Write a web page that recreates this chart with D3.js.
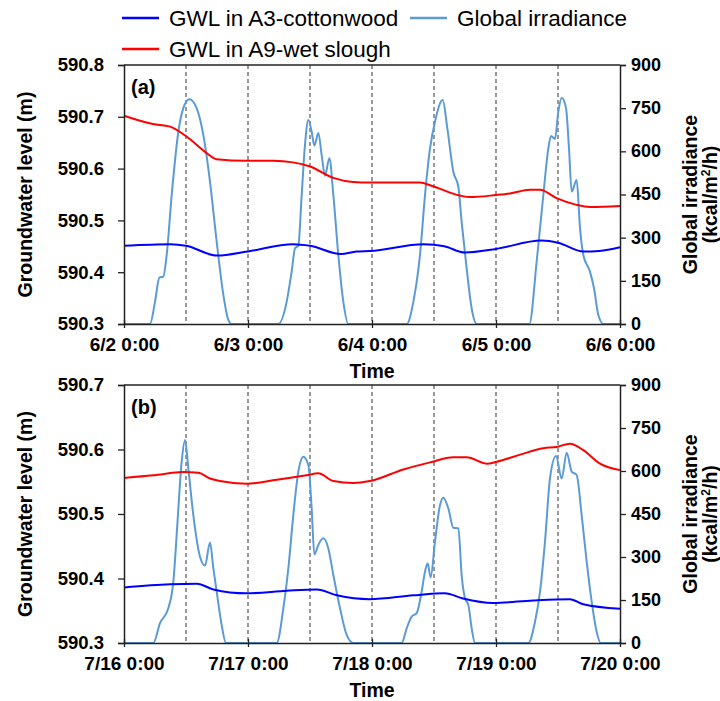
<!DOCTYPE html>
<html>
<head>
<meta charset="utf-8">
<script src="https://cdn.jsdelivr.net/npm/d3@7"></script>
<style>
  html, body { margin: 0; padding: 0; background: #fff; }
  svg { display: block; font-family: "Liberation Sans", Arial, sans-serif; }
</style>
</head>
<body>
<svg id="chart" width="720" height="701"></svg>
<script>
// ---- Data (hour since start of window, value) ----
// Panel (a): 2 June 0:00 – 6 June 0:00
const gwlA3_a = [[0,590.451],[9,590.454],[12,590.451],[18,590.432],[24,590.440],[32.7,590.454],[36,590.451],[42,590.435],[45,590.440],[47.6,590.441],[58,590.454],[62,590.450],[66,590.438],[72,590.445],[80.8,590.461],[84,590.457],[88.9,590.440],[92,590.441],[96,590.448]];
const gwlA9_a = [[0,590.702],[5.6,590.686],[8.9,590.681],[12.1,590.662],[16,590.630],[17.9,590.618],[23.7,590.615],[28.9,590.615],[32.7,590.612],[36,590.604],[40.5,590.582],[44.4,590.574],[47.6,590.573],[57.3,590.573],[59.5,590.567],[65,590.548],[67,590.545],[72,590.549],[74.7,590.552],[78.6,590.559],[80.5,590.559],[83.7,590.543],[87.6,590.530],[90.2,590.526],[96,590.528]];
const irr_a = [[0,0],[5.03,0],[6.0,77],[6.84,161],[7.61,165],[8.26,240],[9.23,448],[10.52,668],[11.48,750],[12.65,781],[14.06,750],[15.35,657],[16.65,494],[17.94,286],[19.23,101],[20.19,14],[20.84,0],
  [29.87,0],[31.48,77],[32.45,182],[33.1,263],[33.74,272],[34.39,448],[35.03,622],[35.68,709],[36.32,668],[36.84,620],[37.61,664],[38.26,587],[38.9,515],[39.74,576],[40.52,448],[41.48,240],[42.45,77],[43.42,0],
  [54.71,0],[56.0,77],[57.29,240],[58.26,448],[59.23,610],[60.19,703],[61.68,778],[62.58,680],[63.74,529],[64.71,477],[65.35,355],[66.32,193],[67.29,54],[68.26,0],
  [78.45,0],[79.87,217],[81.16,448],[82.13,610],[82.65,653],[83.42,643],[84.06,738],[84.71,786],[85.55,750],[86.13,610],[86.65,460],[87.61,500],[88.26,333],[88.9,240],[90.19,182],[90.97,124],[91.81,31],[92.77,0],[96,0]];

// Panel (b): 16 July 0:00 – 20 July 0:00
const gwlA3_b = [[0,590.386],[8.9,590.391],[14.1,590.392],[17.3,590.383],[23.7,590.377],[31.5,590.381],[37.3,590.383],[41.2,590.374],[47.6,590.368],[56,590.374],[62.1,590.377],[65.6,590.369],[71.4,590.362],[79.2,590.366],[86.3,590.368],[88.9,590.360],[96,590.353]];
const gwlA9_b = [[0,590.556],[5.68,590.560],[11.48,590.565],[14.39,590.564],[16.65,590.555],[18.58,590.551],[23.74,590.547],[29.55,590.553],[35.35,590.560],[37.61,590.563],[40.52,590.551],[44.39,590.548],[47.6,590.551],[54.06,590.569],[59.23,590.580],[63.74,590.588],[66.32,590.588],[70.2,590.578],[72.13,590.581],[76.65,590.592],[81.16,590.602],[83.74,590.604],[86.32,590.609],[88.9,590.599],[92.13,590.578],[96,590.568]];
const irr_b = [[0,0],[5.68,0],[6.97,69],[8.58,121],[9.55,214],[10.32,412],[11.16,632],[11.81,708],[12.45,609],[13.42,446],[14.71,301],[15.68,270],[16.65,351],[17.29,261],[17.94,179],[18.9,63],[19.74,0],
  [29.55,0],[30.84,121],[31.81,261],[32.77,446],[33.74,598],[34.71,650],[35.68,621],[36.32,470],[36.84,309],[37.61,342],[38.58,365],[39.55,330],[40.52,237],[41.81,121],[43.1,28],[44.39,0],
  [53.74,0],[54.71,51],[55.68,92],[56.65,104],[57.61,179],[58.26,249],[58.77,278],[59.35,229],[60.19,353],[61.16,481],[61.81,507],[62.77,470],[63.74,402],[64.71,400],[65.35,237],[66.0,156],[66.65,133],[67.29,51],[67.94,0],
  [78.26,0],[79.55,74],[80.52,179],[81.48,353],[82.45,574],[83.61,652],[84.71,574],[85.68,664],[86.65,598],[87.61,586],[88.58,446],[89.55,284],[90.52,144],[91.48,39],[92.26,0],[96,0]];

// Axis labels
const dateTicks_a = ["6/2 0:00","6/3 0:00","6/4 0:00","6/5 0:00","6/6 0:00"];
const dateTicks_b = ["7/16 0:00","7/17 0:00","7/18 0:00","7/19 0:00","7/20 0:00"];
const gwlTicks_a = [590.3,590.4,590.5,590.6,590.7,590.8];
const gwlTicks_b = [590.3,590.4,590.5,590.6,590.7];
const irrTicks = [0,150,300,450,600,750,900];
const seriesNames = ["GWL in A3-cottonwood","Global irradiance","GWL in A9-wet slough"];

const COL_A3 = "#0000ff", COL_A9 = "#ff0000", COL_IRR = "#5b9bd5", AXIS = "#222";

const svg = d3.select("#chart");
const left = 124, right = 620;

// ---- Legend ----
const legend = svg.append("g");
const legendItems = [
  {name: seriesNames[0], color: COL_A3, x: 122, y: 18},
  {name: seriesNames[1], color: COL_IRR, x: 410, y: 18},
  {name: seriesNames[2], color: COL_A9, x: 122, y: 49}
];
legendItems.forEach(d => {
  legend.append("line").attr("x1", d.x).attr("x2", d.x + 37).attr("y1", d.y).attr("y2", d.y)
    .attr("stroke", d.color).attr("stroke-width", 2.5);
  legend.append("text").attr("x", d.x + 47).attr("y", d.y + 8).attr("font-size", 22.5)
    .attr("fill", "#000").text(d.name);
});

function styleAxis(a, size) {
  a.selectAll(".domain").attr("stroke", AXIS).attr("stroke-width", 1.5);
  a.selectAll(".tick line").attr("stroke", AXIS).attr("stroke-width", 1.3);
  a.selectAll("text").attr("font-size", size).attr("font-weight", "bold").attr("fill", "#000")
    .attr("font-family", "Liberation Sans, Arial, sans-serif");
}

function panel(cfg) {
  const {top, bottom, gwlDomain, gwlTicks, dateTicks, a3, a9, irr, tag} = cfg;
  const g = svg.append("g");
  const x = d3.scaleLinear().domain([0, 96]).range([left, right]);
  const y = d3.scaleLinear().domain(gwlDomain).range([bottom, top]);
  const y2 = d3.scaleLinear().domain([0, 900]).range([bottom, top]);

  // dashed guides every 12 h
  const guides = d3.range(12, 96, 12);
  g.selectAll(".guide").data(guides).join("line")
    .attr("x1", d => x(d)).attr("x2", d => x(d))
    .attr("y1", top).attr("y2", bottom)
    .attr("stroke", "#333").attr("stroke-width", 1).attr("stroke-dasharray", "4,3");

  // series
  const lineG = d3.line().x(d => x(d[0])).y(d => y(d[1])).curve(d3.curveMonotoneX);
  const lineI = d3.line().x(d => x(d[0])).y(d => y2(d[1])).curve(d3.curveMonotoneX);
  g.append("path").datum(irr).attr("d", lineI).attr("fill", "none")
    .attr("stroke", COL_IRR).attr("stroke-width", 2);
  g.append("path").datum(a9).attr("d", lineG).attr("fill", "none")
    .attr("stroke", COL_A9).attr("stroke-width", 2);
  g.append("path").datum(a3).attr("d", lineG).attr("fill", "none")
    .attr("stroke", COL_A3).attr("stroke-width", 2);

  // left axis
  const ax = d3.axisLeft(y).tickValues(gwlTicks).tickFormat(d3.format(".1f")).tickSize(6).tickSizeOuter(6).tickPadding(14);
  const gl = g.append("g").attr("transform", `translate(${left},0)`).call(ax);
  styleAxis(gl, 18.5);
  // right axis
  const ax2 = d3.axisRight(y2).tickValues(irrTicks).tickSize(6).tickSizeOuter(6).tickPadding(5);
  const gr = g.append("g").attr("transform", `translate(${right},0)`).call(ax2);
  styleAxis(gr, 18);
  gr.selectAll("text").attr("dy", "0.3em");
  // bottom axis (ticks crossing the baseline)
  const ax3 = d3.axisBottom(x).tickValues([0,24,48,72,96]).tickFormat((d,i) => dateTicks[i]).tickSize(4).tickSizeOuter(0).tickPadding(6);
  const gb = g.append("g").attr("transform", `translate(0,${bottom})`).call(ax3);
  gb.selectAll(".tick line").attr("y1", -4);
  styleAxis(gb, 19);
  gb.selectAll("text").attr("dy", "0.88em");

  // top frame line
  g.append("line").attr("x1", left).attr("x2", right).attr("y1", top).attr("y2", top)
    .attr("stroke", AXIS).attr("stroke-width", 1.5);

  // panel tag
  g.append("text").attr("x", left + 7).attr("y", top + 29).attr("font-size", 20)
    .attr("font-weight", "bold").text(tag);

  // axis titles
  const mid = (top + bottom) / 2;
  g.append("text").attr("transform", `translate(32,${mid}) rotate(-90)`)
    .attr("text-anchor", "middle").attr("font-size", 19.5).attr("font-weight", "bold")
    .text("Groundwater level (m)");
  const rt = g.append("text").attr("transform", `translate(697,${mid}) rotate(-90)`)
    .attr("text-anchor", "middle").attr("font-size", 19.5).attr("font-weight", "bold");
  rt.append("tspan").attr("x", 0).attr("y", 0).text("Global irradiance");
  const t2 = rt.append("tspan").attr("x", 0).attr("y", 20);
  t2.append("tspan").text("(kcal/m");
  t2.append("tspan").attr("font-size", 12).attr("dy", -7).text("2");
  t2.append("tspan").attr("dy", 7).text("/h)");
  g.append("text").attr("x", (left + right) / 2).attr("y", bottom + 54)
    .attr("text-anchor", "middle").attr("font-size", 19.5).attr("font-weight", "bold").text("Time");
}

panel({top: 65, bottom: 324, gwlDomain: [590.3, 590.8], gwlTicks: gwlTicks_a, dateTicks: dateTicks_a,
       a3: gwlA3_a, a9: gwlA9_a, irr: irr_a, tag: "(a)"});
panel({top: 385, bottom: 643, gwlDomain: [590.3, 590.7], gwlTicks: gwlTicks_b, dateTicks: dateTicks_b,
       a3: gwlA3_b, a9: gwlA9_b, irr: irr_b, tag: "(b)"});
</script>
</body>
</html>
